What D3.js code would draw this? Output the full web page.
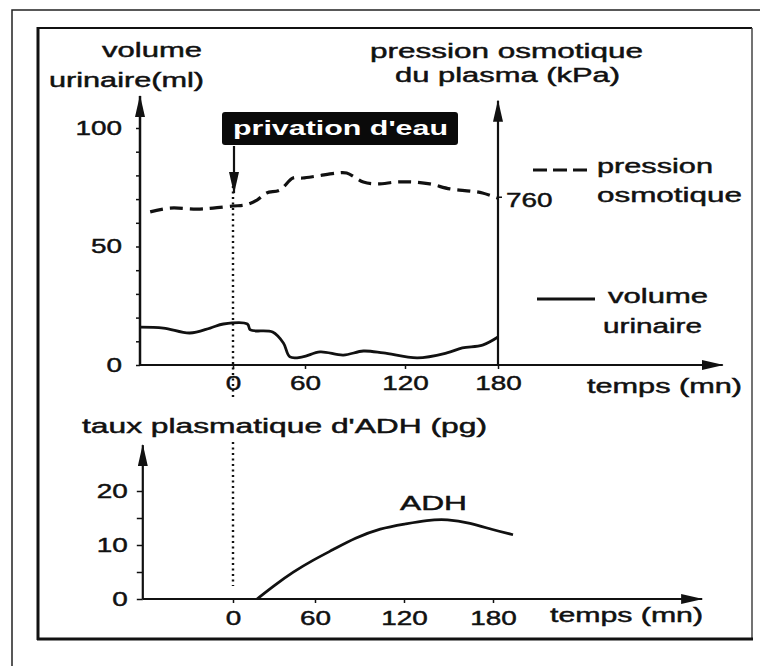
<!DOCTYPE html>
<html>
<head>
<meta charset="utf-8">
<script src="https://cdn.jsdelivr.net/npm/d3@7"></script>
<style>
  body { margin: 0; background: #fff; }
  text { font-family: "Liberation Sans", Arial, sans-serif; fill: #111; stroke: #111; stroke-width: 0.45px; }
</style>
</head>
<body>
<div id="chart"></div>
<script>
var svgWidth = 760;
var svgHeight = 666;

// Data
var timeTicks = [0, 60, 120, 180];

var urineTime   = [-77.5, -58, -36, -19, -8, 12, 14.5, 33, 42, 47.5, 58, 69, 83, 95, 107, 128, 147, 157, 170, 180];
var urineVolume = [16.0, 15.6, 13.5, 15.6, 17.3, 17.3, 14.8, 13.9, 9.3, 3.4, 3.4, 5.5, 4.2, 5.9, 5.1, 3.0, 5.1, 7.2, 8.4, 11.8];

var pressureTime  = [-69, -52.5, -30, -16.7, 0, 10, 20, 28, 39, 50, 58, 67, 79, 85, 95, 103, 115, 125, 136, 149, 162, 170, 180];
var pressureValue = [753.6, 755.2, 754.8, 755.2, 756.1, 756.5, 758.6, 761.6, 762.8, 767.9, 767.9, 768.7, 770, 770, 766.2, 765.4, 766.2, 766.2, 765.4, 763.3, 762.4, 761.6, 759.4];

var adhTime  = [17.6, 30.7, 43.9, 58.5, 72, 87, 104, 121, 135.5, 149, 164.5, 180, 193.5];
var adhLevel = [0, 2.6, 5.0, 7.2, 9.1, 11.3, 13.1, 13.9, 14.6, 14.8, 14.1, 12.8, 11.9];

var volumeTicks   = [0, 10, 20, 30, 40, 50, 60, 70, 80, 90, 100];
var volumeLabels  = [0, 50, 100];
var pressureTicks = [760];
var adhTicks      = [0, 5, 10, 15, 20];
var adhLabels     = [0, 10, 20];

var svg = d3.select("#chart")
  .append("svg")
  .attr("width", svgWidth)
  .attr("height", svgHeight);

svg.append("defs").append("marker")
  .attr("id", "arrow")
  .attr("viewBox", "0 0 22 10")
  .attr("markerUnits", "userSpaceOnUse")
  .attr("markerWidth", 22)
  .attr("markerHeight", 10)
  .attr("refX", 21)
  .attr("refY", 5)
  .attr("orient", "auto")
  .append("path")
  .attr("d", "M0,0 L22,5 L0,10 Z")
  .attr("fill", "#111");

// frames
svg.append("rect").attr("x", 12).attr("y", 10).attr("width", 760).attr("height", 680)
  .attr("fill", "none").attr("stroke", "#222").attr("stroke-width", 1.5);
svg.append("line").attr("x1", 38).attr("y1", 27).attr("x2", 38).attr("y2", 640)
  .attr("stroke", "#111").attr("stroke-width", 3);
svg.append("line").attr("x1", 37).attr("y1", 28).attr("x2", 752).attr("y2", 28)
  .attr("stroke", "#111").attr("stroke-width", 2);
svg.append("line").attr("x1", 752).attr("y1", 28).attr("x2", 752).attr("y2", 640)
  .attr("stroke", "#444").attr("stroke-width", 1.5);
svg.append("line").attr("x1", 37).attr("y1", 639).attr("x2", 753).attr("y2", 639)
  .attr("stroke", "#111").attr("stroke-width", 3);

// scales (hand drawn axis, ticks are not evenly spaced)
var xTop = d3.scaleLinear().domain([0, 60, 120, 180]).range([233, 305, 405, 498]);
var xBottom = d3.scaleLinear().domain([0, 60, 120, 180]).range([233, 315, 404, 493]);
var yVolume = d3.scaleLinear().domain([0, 100]).range([365, 128]);
var yPressure = d3.scaleLinear().domain([689, 789]).range([365, 128]);
var yAdh = d3.scaleLinear().domain([0, 20]).range([599, 491]);

function styleAxis(g) {
  g.select(".domain").remove();
  g.attr("font-size", null).attr("font-family", null);
  g.selectAll("line").attr("stroke", "#111").attr("stroke-width", 1.5);
  g.selectAll("text")
    .style("font-size", "20px")
    .attr("fill", "#111")
    .attr("lengthAdjust", "spacingAndGlyphs")
    .attr("textLength", function() { return this.textContent.length * 15.5; });
}

function arrowLine(x1, y1, x2, y2, w) {
  svg.append("line")
    .attr("x1", x1).attr("y1", y1).attr("x2", x2).attr("y2", y2)
    .attr("stroke", "#111").attr("stroke-width", w)
    .attr("marker-end", "url(#arrow)");
}

// ---------- top chart ----------
svg.append("g")
  .attr("transform", `translate(0, ${yVolume(0)})`)
  .call(d3.axisBottom(xTop).tickValues(timeTicks).tickSize(4).tickPadding(7))
  .call(styleAxis);

svg.append("g")
  .attr("transform", `translate(${xTop(-77.5)}, 0)`)
  .call(d3.axisLeft(yVolume).tickValues(volumeTicks).tickSize(4).tickPadding(14)
    .tickFormat(d => volumeLabels.includes(d) ? d : ""))
  .call(styleAxis);

svg.append("g")
  .attr("transform", `translate(${xTop(180)}, 0)`)
  .call(d3.axisRight(yPressure).tickValues(pressureTicks).tickSize(4).tickPadding(4))
  .call(styleAxis)
  .selectAll("text").attr("dy", "0.5em");

arrowLine(xTop(-77.5), yVolume(0), xTop(325), yVolume(0), 1.8);
arrowLine(xTop(-77.5), yVolume(0), xTop(-77.5), yVolume(113.5), 2.5);
arrowLine(xTop(180), yVolume(0), xTop(180), yVolume(111.5), 2.2);

// water deprivation marker
svg.append("line")
  .attr("x1", xTop(0)).attr("y1", 186).attr("x2", xTop(0)).attr("y2", 400)
  .attr("stroke", "#111").attr("stroke-width", 2.4).attr("stroke-dasharray", "2,3.5");

svg.append("rect")
  .attr("x", 222).attr("y", 112).attr("width", 236).attr("height", 33).attr("rx", 3)
  .attr("fill", "#0a0a0a");
svg.append("text")
  .attr("x", 233).attr("y", 135)
  .attr("font-weight", "bold").style("font-size", "20px")
  .style("fill", "#fff").style("stroke", "none")
  .attr("textLength", 215).attr("lengthAdjust", "spacingAndGlyphs")
  .text("privation d'eau");
arrowLine(xTop(0) + 1, 146, xTop(0) + 1, 193, 2.2);

var urineLine = d3.line()
  .x((d, i) => xTop(urineTime[i]))
  .y(d => yVolume(d))
  .curve(d3.curveCatmullRom);

svg.append("path")
  .attr("d", urineLine(urineVolume))
  .attr("fill", "none").attr("stroke", "#111").attr("stroke-width", 2.8);

var pressureLine = d3.line()
  .x((d, i) => xTop(pressureTime[i]))
  .y(d => yPressure(d))
  .curve(d3.curveCatmullRom);

svg.append("path")
  .attr("d", pressureLine(pressureValue))
  .attr("fill", "none").attr("stroke", "#111").attr("stroke-width", 3.2)
  .attr("stroke-dasharray", "13,7");

// legend
svg.append("line").attr("x1", 533).attr("y1", 170).attr("x2", 589).attr("y2", 170)
  .attr("stroke", "#111").attr("stroke-width", 3).attr("stroke-dasharray", "14,6");
svg.append("line").attr("x1", 537).attr("y1", 299).attr("x2", 595).attr("y2", 299)
  .attr("stroke", "#111").attr("stroke-width", 2.8);

// ---------- bottom chart ----------
svg.append("g")
  .attr("transform", `translate(0, ${yAdh(0)})`)
  .call(d3.axisBottom(xBottom).tickValues(timeTicks).tickSize(4).tickPadding(8))
  .call(styleAxis);

svg.append("g")
  .attr("transform", `translate(${xBottom(-66)}, 0)`)
  .call(d3.axisLeft(yAdh).tickValues(adhTicks).tickSize(6).tickPadding(9)
    .tickFormat(d => adhLabels.includes(d) ? d : ""))
  .call(styleAxis);

arrowLine(xBottom(-66), yAdh(0), xBottom(321), yAdh(0), 1.8);
arrowLine(xBottom(-66), yAdh(0), xBottom(-66), yAdh(28.5), 2.2);

svg.append("line")
  .attr("x1", xBottom(0)).attr("y1", 442).attr("x2", xBottom(0)).attr("y2", 586)
  .attr("stroke", "#111").attr("stroke-width", 2.4).attr("stroke-dasharray", "2,3.5");

var adhLine = d3.line()
  .x((d, i) => xBottom(adhTime[i]))
  .y(d => yAdh(d))
  .curve(d3.curveBasis);

svg.append("path")
  .attr("d", adhLine(adhLevel))
  .attr("fill", "none").attr("stroke", "#111").attr("stroke-width", 2.8);

// ---------- texts ----------
var labels = [
  ["volume", 102, 57, 100],
  ["urinaire(ml)", 49, 87, 155],
  ["pression osmotique", 370, 58, 273],
  ["du plasma (kPa)", 395, 82, 225],
  ["pression", 597, 173, 116],
  ["osmotique", 597, 202, 145],
  ["volume", 608, 303, 100],
  ["urinaire", 603, 333, 99],
  ["temps (mn)", 587, 393, 155],
  ["taux plasmatique d'ADH (pg)", 82, 433, 405],
  ["temps (mn)", 550, 622, 153],
  ["ADH", 400, 510, 67]
];

svg.selectAll("text.label")
  .data(labels)
  .enter()
  .append("text")
  .attr("class", "label")
  .attr("x", d => d[1])
  .attr("y", d => d[2])
  .attr("textLength", d => d[3])
  .attr("lengthAdjust", "spacingAndGlyphs")
  .style("font-size", "20px")
  .text(d => d[0]);
</script>
</body>
</html>
